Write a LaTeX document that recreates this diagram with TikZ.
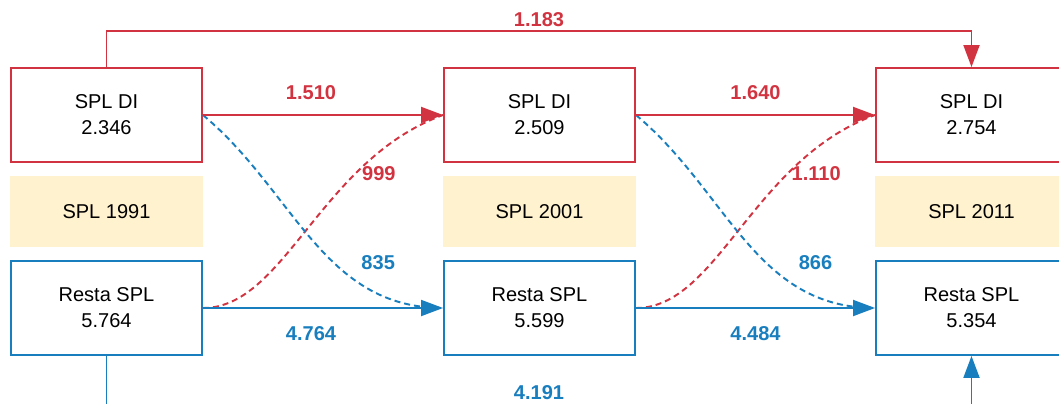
\documentclass[tikz,border=0pt]{standalone}
\usepackage{fontspec}
\setmainfont{Liberation Sans}
\usepackage{tikz}
\usetikzlibrary{arrows.meta, calc}

\definecolor{splred}{RGB}{209,52,64}
\definecolor{splblue}{RGB}{24,126,190}
\definecolor{splyellow}{RGB}{255,242,207}

\begin{document}
\begin{tikzpicture}[x=0.02cm, y=-0.02cm,
		every node/.style={font=\fontsize{11.4}{14.8}\selectfont},
		box/.style={draw, line width=1.1pt, fill=white, minimum width=3.82cm, minimum height=1.88cm, align=center},
		yearbox/.style={fill=splyellow, inner sep=0pt, minimum width=3.86cm, minimum height=1.42cm},
		num/.style={font=\fontsize{11.4}{14}\selectfont\bfseries, inner sep=2pt},
		flow/.style={line width=1.1pt, -{Triangle[length=0.44cm,width=0.32cm]}},
		cross/.style={line width=1.1pt, dash pattern=on 0.12cm off 0.08cm}]
		\useasboundingbox (0,0) rectangle (1059,403);
		% columns: 1991, 2001, 2011
		\foreach \c/\x/\yr/\di/\rs in {1/106.5/1991/2.346/5.764, 2/539.5/2001/2.509/5.599, 3/971.5/2011/2.754/5.354} {
				\node[box, draw=splred] (di\c) at (\x,115) {SPL DI\\\di};
				\node[yearbox] (yr\c) at (\x,211.5) {SPL \yr};
				\node[box, draw=splblue] (rs\c) at (\x,308) {Resta SPL\\\rs};
			}
		% dashed crossings
		\draw[cross, splred] (rs1.east) .. controls ($(rs1.east)+(82,0)$) and ($(di2.west)+(-123,45)$) .. (di2.west)
			node[num, pos=0.71, xshift=0.48cm] {999};
		\draw[cross, splblue] (di1.east) .. controls ($(di1.east)+(92,77)$) and ($(rs2.west)+(-120,0)$) .. (rs2.west)
			node[num, pos=0.6, xshift=0.9cm] {835};
		\draw[cross, splred] (rs2.east) .. controls ($(rs2.east)+(82,0)$) and ($(di3.west)+(-123,45)$) .. (di3.west)
			node[num, pos=0.71, xshift=0.58cm] {1.110};
		\draw[cross, splblue] (di2.east) .. controls ($(di2.east)+(92,77)$) and ($(rs3.west)+(-120,0)$) .. (rs3.west)
			node[num, pos=0.6, xshift=1cm] {866};
		% straight flows
		\draw[flow, splred] (di1) -- (di2) node[num, pos=0.45, above=6.4pt] {1.510};
		\draw[flow, splred] (di2) -- (di3) node[num, pos=0.5, above=6.4pt] {1.640};
		\draw[flow, splblue] (rs1) -- (rs2) node[num, pos=0.45, below=8.1pt] {4.764};
		\draw[flow, splblue] (rs2) -- (rs3) node[num, pos=0.5, below=8.1pt] {4.484};
		% 1991 -> 2011
		\draw[flow, splred] (di1.north) -- ++(0,-36) -| (di3.north) node[num, pos=0.25, above=0pt] {1.183};
		\draw[flow, splblue] (rs1.south) -- ++(0,56) -| (rs3.south) node[num, pos=0.25, above=4.7pt] {4.191};
	\end{tikzpicture}
\end{document}
